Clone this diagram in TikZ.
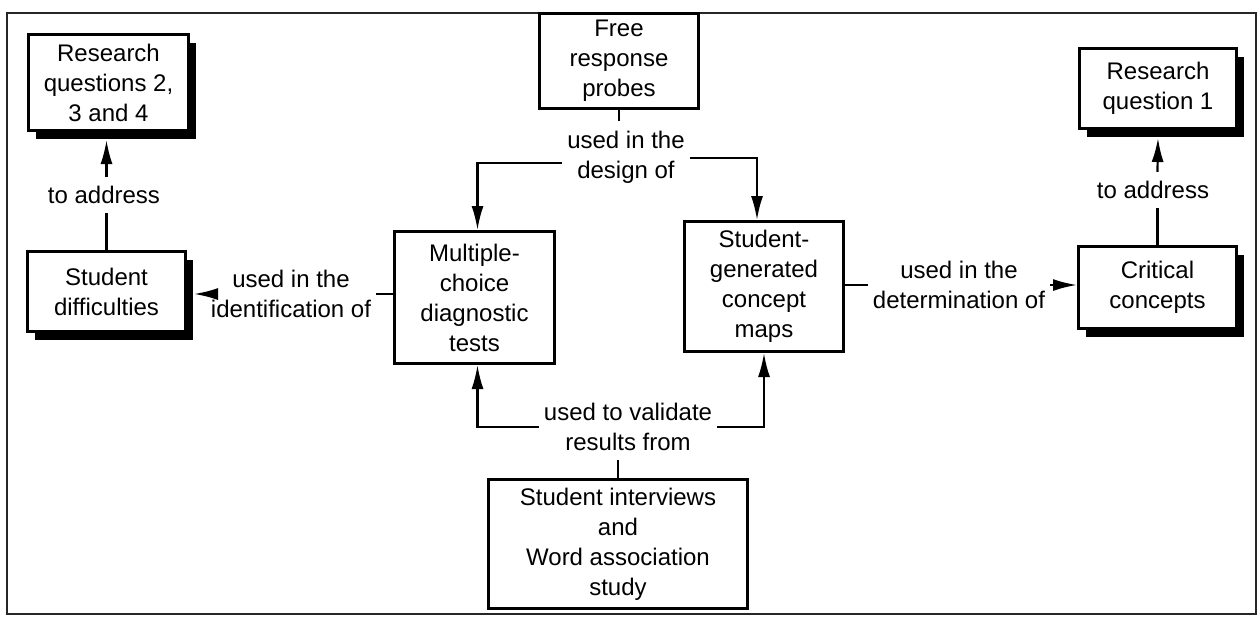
\documentclass[tikz,border=0pt]{standalone}
\usepackage{fontspec}
\setmainfont{Liberation Sans}
\usetikzlibrary{arrows.meta,shadows}
\begin{document}
\begin{tikzpicture}[x=0.5pt,y=-0.5pt,
  font=\fontsize{12}{15}\selectfont,
  box/.style={draw=black,line width=1.5pt,fill=white,align=center,inner sep=0pt},
  shadebox/.style={box,drop shadow={shadow xshift=3.5pt,shadow yshift=-4pt,fill=black,opacity=1}},
  link/.style={align=center,inner xsep=2.5pt,inner ysep=4.5pt},
  conn/.style={line width=1.1pt},
  arr/.style={conn,-{Latex[length=12pt,width=6pt]}}]

\useasboundingbox (0,0) rectangle (1260,617);

% outer frame
\draw[line width=0.9pt,black!85] (7,13) rectangle (1256,614);

% concept boxes
\node[shadebox,minimum width=80pt,minimum height=48pt] (rq234) at (108.5,82.5) {Research\\questions 2,\\3 and 4};
\node[shadebox,minimum width=79pt,minimum height=40pt] (sd) at (106.5,291.5) {Student\\difficulties};
\node[box,minimum width=79.5pt,minimum height=47.5pt] (frp) at (619,61) {Free\\response\\probes};
\node[box,minimum width=80pt,minimum height=66pt] (mcd) at (474.5,297.5) {Multiple-\\choice\\diagnostic\\tests};
\node[box,minimum width=79.5pt,minimum height=65pt] (sgc) at (764,286.5) {Student-\\generated\\concept\\maps};
\node[shadebox,minimum width=78.5pt,minimum height=40pt] (rq1) at (1158,88.5) {Research\\question 1};
\node[shadebox,minimum width=79pt,minimum height=41pt] (cc) at (1157.5,287.5) {Critical\\concepts};
\node[box,minimum width=129.5pt,minimum height=64.5pt] (siw) at (618,544) {Student interviews\\and\\Word association\\study};

% linking phrases
\node[link] (ad1) at (104,195) {to address};
\node[link] (lab2) at (291,294) {used in the\\identification of};
\node[link] (lab3) at (626,157) {used in the\\design of};
\node[link] (lab4) at (959,285) {used in the\\determination of};
\node[link] (ad2) at (1153,190) {to address};
\node[link] (lab6) at (628,427) {used to validate\\results from};

% Student difficulties -> Research questions 2, 3 and 4
\draw[conn] (sd.north) -- (sd.north |- ad1.south);
\draw[arr] (ad1.north -| sd.north) -- ([xshift=-1pt,yshift=-4pt]rq234.south);

% Multiple-choice tests -> Student difficulties
\draw[conn] (mcd.west |- lab2.east) -- (lab2.east);
\draw[arr] (lab2.west) -- ([xshift=3.5pt]lab2.west -| sd.east);

% Free response probes -> tests and concept maps
\draw[conn] (frp.south) -- (frp.south |- lab3.north);
\draw[arr] ([yshift=-3pt]lab3.west) -| ([xshift=1.5pt]mcd.north);
\draw[arr] ([yshift=-0.5pt]lab3.east) -| ([xshift=-3.5pt]sgc.north);

% Concept maps -> Critical concepts
\draw[conn] (sgc.east |- lab4.west) -- (lab4.west);
\draw[arr] (lab4.east) -- (lab4.east -| cc.west);

% Critical concepts -> Research question 1
\draw[conn] (cc.north) -- (cc.north |- ad2.south);
\draw[arr] (ad2.north -| cc.north) -- ([yshift=-4pt]rq1.south);

% Interviews -> tests and concept maps
\draw[conn] (siw.north) -- (siw.north |- lab6.south);
\draw[arr] (lab6.west) -| ([xshift=1.5pt]mcd.south);
\draw[arr] (lab6.east) -| (sgc.south);

\end{tikzpicture}
\end{document}
